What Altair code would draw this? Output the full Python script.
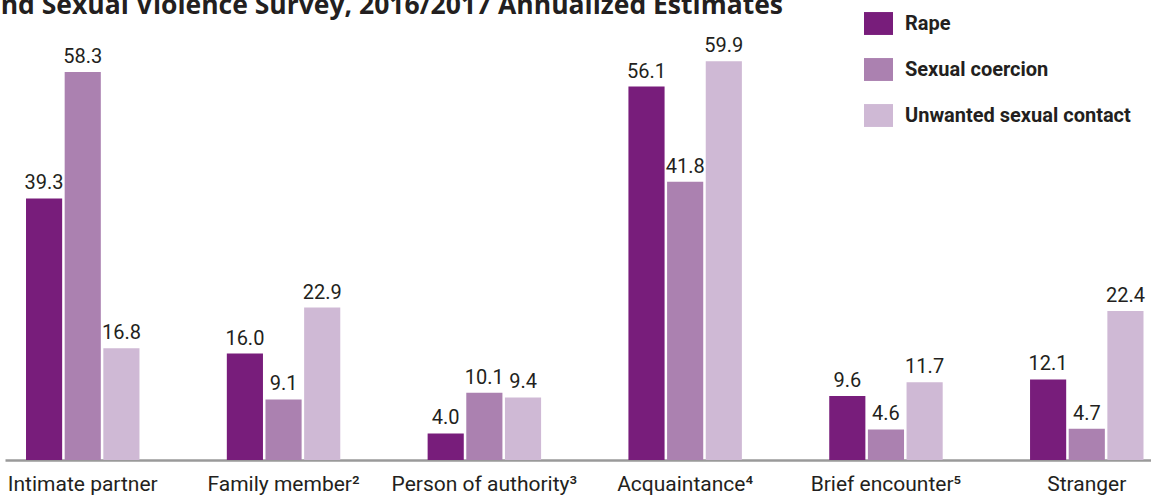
import altair as alt
import pandas as pd

categories = ["Intimate partner", "Family member²", "Person of authority³",
              "Acquaintance⁴", "Brief encounter⁵", "Stranger"]
types = ["Rape", "Sexual coercion", "Unwanted sexual contact"]
rape = [39.3, 16.0, 4.0, 56.1, 9.6, 12.1]
coercion = [58.3, 9.1, 10.1, 41.8, 4.6, 4.7]
contact = [16.8, 22.9, 9.4, 59.9, 11.7, 22.4]
colors = ["#781D7B", "#AB81B0", "#CFB9D5"]
title_text = "and Sexual Violence Survey, 2016/2017 Annualized Estimates"

rows = []
for t, vals in zip(types, [rape, coercion, contact]):
    for c, v in zip(categories, vals):
        rows.append({"category": c, "type": t, "value": v})
df = pd.DataFrame(rows)

COND = "Roboto, Liberation Sans, sans-serif"
TXT = "#231F20"

x_enc = alt.X("category:N", sort=categories, title=None,
              scale=alt.Scale(paddingInner=0.435, paddingOuter=0.071, align=0.737),
              axis=alt.Axis(labelAngle=0, ticks=False, tickSize=0, domainColor="#9A9A9A",
                            domainWidth=2.5, labelFont=COND, labelFontSize=21,
                            labelColor=TXT, labelBaseline="alphabetic", labelPadding=30,
                            labelLimit=400, grid=False))
xo_enc = alt.XOffset("type:N", sort=types, scale=alt.Scale(paddingInner=0.065, paddingOuter=0))
y_enc = alt.Y("value:Q", scale=alt.Scale(domain=[0, 60.1], nice=False), axis=None)

base = alt.Chart(df)
bars = base.mark_bar().encode(
    x=x_enc, xOffset=xo_enc, y=y_enc,
    color=alt.Color("type:N", sort=types, scale=alt.Scale(domain=types, range=colors),
                    legend=alt.Legend(title=None, orient="none", legendX=859, legendY=-51,
                                      symbolType="M-1,-0.79H1V0.79H-1Z", symbolSize=841,
                                      symbolStrokeWidth=0, symbolOpacity=1,
                                      labelFont=COND, labelFontSize=20, labelFontWeight="bold",
                                      labelColor=TXT, labelOffset=12, rowPadding=20,
                                      padding=0, labelLimit=400))
)
labels = base.mark_text(baseline="alphabetic", dy=-9, font=COND, fontSize=20, color=TXT).encode(
    x=x_enc, xOffset=xo_enc, y=y_enc,
    text=alt.Text("value:Q", format=".1f")
)
title = alt.Chart(pd.DataFrame({"t": [title_text]})).mark_text(
    align="right", baseline="alphabetic", font="Open Sans", fontWeight="bold", fontSize=26.5, color=TXT
).encode(x=alt.value(778), y=alt.value(-46), text="t:N")

chart = alt.layer(bars, labels, title).properties(
    width=1146, height=400,
    autosize=alt.AutoSizeParams(type="none"),
    padding={"left": 5, "top": 60, "right": 0, "bottom": 37},
).configure(background="white", view=alt.ViewConfig(stroke=None))

chart.save("out.html", embed_options={"renderer": "svg", "actions": False})
